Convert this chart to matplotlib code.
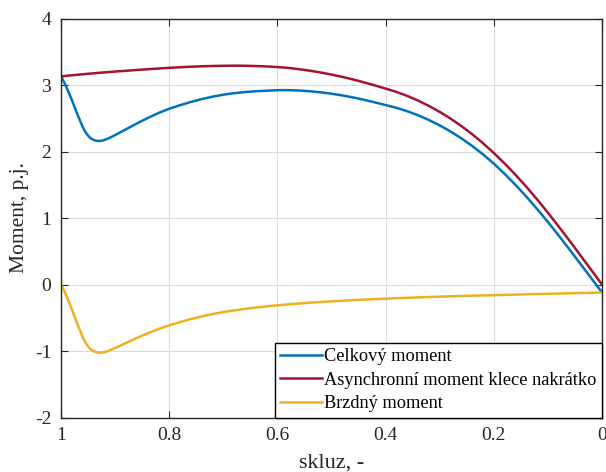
import numpy as np
import matplotlib
matplotlib.use("Agg")
import matplotlib.pyplot as plt

plt.rcParams['font.family'] = ['Liberation Serif', 'DejaVu Serif']
plt.rcParams['axes.unicode_minus'] = False

# skluz (slip)
s = [1.0, 0.995, 0.99, 0.985, 0.98, 0.975, 0.97, 0.965, 0.96, 0.955,
     0.95, 0.945, 0.94, 0.935, 0.93, 0.925, 0.92, 0.915, 0.91, 0.90,
     0.89, 0.88, 0.86, 0.84, 0.82, 0.80, 0.78, 0.76, 0.74, 0.72,
     0.70, 0.68, 0.66, 0.64, 0.62, 0.60, 0.58, 0.56, 0.54, 0.52,
     0.50, 0.48, 0.46, 0.44, 0.42, 0.40, 0.38, 0.36, 0.34, 0.32,
     0.30, 0.28, 0.26, 0.24, 0.22, 0.20, 0.18, 0.16, 0.14, 0.12,
     0.10, 0.08, 0.06, 0.04, 0.02, 0.0]

celkovy = [3.13, 3.054, 2.968, 2.872, 2.776, 2.67, 2.564, 2.468, 2.371, 2.295,
           2.239, 2.197, 2.176, 2.161, 2.158, 2.162, 2.173, 2.188, 2.206, 2.247,
           2.29, 2.334, 2.421, 2.502, 2.578, 2.643, 2.696, 2.745, 2.788, 2.824,
           2.854, 2.877, 2.894, 2.906, 2.914, 2.922, 2.923, 2.917, 2.906, 2.89,
           2.869, 2.843, 2.813, 2.778, 2.739, 2.698, 2.657, 2.606, 2.545, 2.474,
           2.393, 2.301, 2.198, 2.084, 1.957, 1.818, 1.664, 1.499, 1.323, 1.136,
           0.94, 0.736, 0.526, 0.312, 0.096, -0.12]

asynchronni = [3.13, 3.134, 3.138, 3.142, 3.146, 3.15, 3.154, 3.158, 3.161, 3.165,
               3.169, 3.172, 3.176, 3.179, 3.183, 3.186, 3.19, 3.193, 3.196, 3.202,
               3.208, 3.214, 3.226, 3.237, 3.248, 3.258, 3.267, 3.275, 3.281, 3.286,
               3.289, 3.291, 3.289, 3.285, 3.279, 3.27, 3.257, 3.238, 3.215, 3.188,
               3.157, 3.122, 3.083, 3.04, 2.994, 2.946, 2.896, 2.836, 2.766, 2.686,
               2.596, 2.495, 2.383, 2.26, 2.125, 1.978, 1.82, 1.651, 1.471, 1.28,
               1.08, 0.872, 0.658, 0.44, 0.22, 0.0]

brzdny = [0.0, -0.08, -0.17, -0.27, -0.37, -0.48, -0.59, -0.69, -0.79, -0.87,
          -0.93, -0.975, -1.0, -1.018, -1.025, -1.024, -1.017, -1.005, -0.99, -0.955,
          -0.918, -0.88, -0.805, -0.735, -0.67, -0.615, -0.565, -0.52, -0.48, -0.445,
          -0.415, -0.39, -0.367, -0.347, -0.33, -0.313, -0.299, -0.286, -0.274, -0.263,
          -0.253, -0.244, -0.235, -0.227, -0.22, -0.213, -0.206, -0.2, -0.194, -0.188,
          -0.183, -0.178, -0.173, -0.168, -0.164, -0.16, -0.156, -0.152, -0.148, -0.144,
          -0.14, -0.136, -0.132, -0.128, -0.124, -0.12]

labels = ['Celkový moment', 'Asynchronní moment klece nakrátko', 'Brzdný moment']
colors = ['#0072BD', '#A2142F', '#EDB120']

fig = plt.figure(figsize=(6.06, 4.72), dpi=100)
ax = fig.add_axes([61/606, 54.5/472, 541/606, 399/472])

for y, lab, c in zip([celkovy, asynchronni, brzdny], labels, colors):
    ax.plot(s, y, color=c, lw=1.8, label=lab, solid_joinstyle='round')

ax.set_xlim(1, 0)
ax.set_ylim(-2, 4)
ax.set_xticks([1, 0.8, 0.6, 0.4, 0.2, 0])
ax.set_xticklabels(['1', '0.8', '0.6', '0.4', '0.2', '0'])
ax.set_yticks([-2, -1, 0, 1, 2, 3, 4])
ax.grid(True, color='#dcdcdc', lw=0.8)
ax.set_axisbelow(True)
for sp in ax.spines.values():
    sp.set_color('#262626')
    sp.set_linewidth(1.0)
ax.tick_params(direction='in', length=5, colors='#262626', labelsize=14,
               top=True, right=True, pad=7)

ax.set_xlabel('skluz, -', fontsize=16, color='#262626', labelpad=7)
ax.set_ylabel('Moment, p.j.', fontsize=15.5, color='#262626', labelpad=4)

leg = ax.legend(loc='lower right', borderaxespad=0, fancybox=False,
                edgecolor='black', framealpha=1, fontsize=13.2,
                handlelength=2.3, handletextpad=0.1, labelspacing=0.35,
                borderpad=0.3)
leg.get_frame().set_linewidth(1.0)

fig.savefig('out.png', dpi=100)
